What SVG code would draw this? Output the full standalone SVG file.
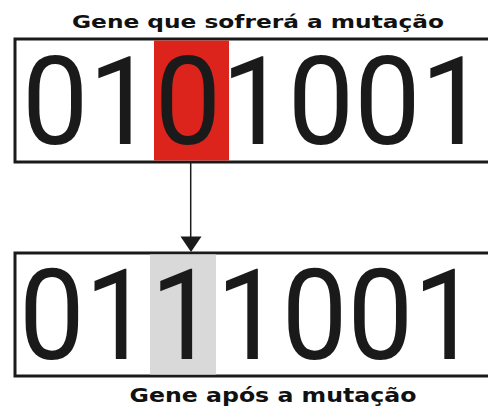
<svg xmlns="http://www.w3.org/2000/svg" width="488" height="406" viewBox="0 0 488 406">
  <style>
    .frame { fill: #ffffff; stroke: #1a1a1a; stroke-width: 3; }
    .digits { fill: #1a1a1a; font-family: Roboto, "Liberation Sans", Arial, sans-serif; }
    .title { fill: #111111; font-family: "DejaVu Sans", Verdana, sans-serif; font-weight: bold; }
    .link { stroke: #1a1a1a; stroke-width: 1.5; fill: none; }
  </style>
  <rect width="488" height="406" fill="#ffffff"/>

  <!-- gene before mutation -->
  <g id="gene-before">
    <text class="title" x="258" y="28" font-size="18" text-anchor="middle" textLength="372" lengthAdjust="spacingAndGlyphs">Gene que sofrerá a mutação</text>
    <rect class="frame" x="15" y="39" width="480" height="123"/>
    <rect x="154" y="40.5" width="75" height="120" fill="#dc241c"/>
    <text class="digits" x="22" y="144" font-size="122" textLength="465" lengthAdjust="spacingAndGlyphs">0101001</text>
  </g>

  <!-- gene after mutation -->
  <g id="gene-after">
    <rect class="frame" x="15" y="253" width="480" height="123"/>
    <rect x="150" y="254.5" width="66" height="120" fill="#d9d9d9"/>
    <text class="digits" x="19" y="359" font-size="127" textLength="460" lengthAdjust="spacingAndGlyphs">0111001</text>
    <text class="title" x="273" y="402" font-size="19" text-anchor="middle" textLength="287" lengthAdjust="spacingAndGlyphs">Gene após a mutação</text>
  </g>

  <!-- mutation arrow -->
  <g id="connectors">
    <line class="link" x1="190.7" y1="163" x2="190.7" y2="237"/>
    <path d="M180.5,236.5 L201.5,236.5 L191,252 Z" fill="#1a1a1a"/>
  </g>
</svg>
